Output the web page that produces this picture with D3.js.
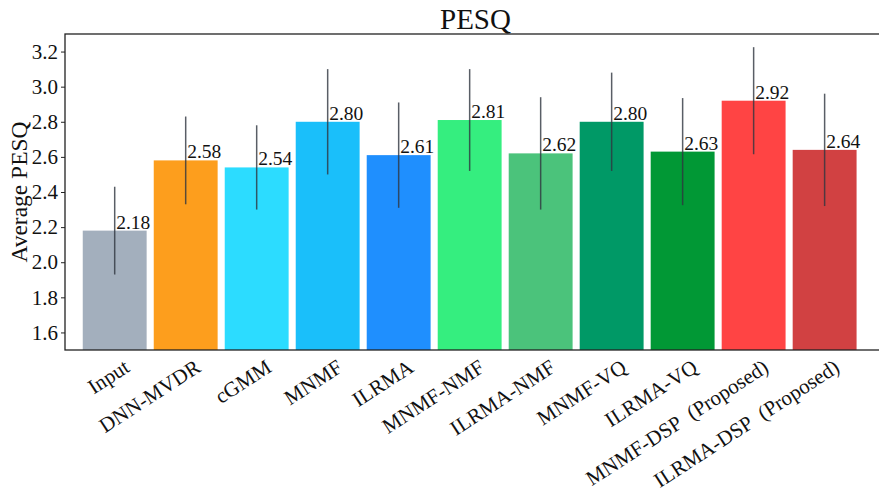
<!DOCTYPE html>
<html>
<head>
<meta charset="utf-8">
<script src="https://cdn.jsdelivr.net/npm/d3@7"></script>
<style>
  html, body { margin: 0; padding: 0; background: #fff; }
  svg { display: block; }
  text { font-family: "Liberation Serif", "DejaVu Serif", serif; fill: #111; }
</style>
</head>
<body>
<svg id="chart" width="879" height="497"></svg>
<script>
// Methods compared and their average PESQ with standard deviation
const methods = ["Input", "DNN-MVDR", "cGMM", "MNMF", "ILRMA", "MNMF-NMF",
                 "ILRMA-NMF", "MNMF-VQ", "ILRMA-VQ", "MNMF-DSP\u2002(Proposed)", "ILRMA-DSP\u2002(Proposed)"];
const meanPESQ = [2.18, 2.58, 2.54, 2.80, 2.61, 2.81, 2.62, 2.80, 2.63, 2.92, 2.64];
const stdPESQ  = [0.25, 0.25, 0.24, 0.30, 0.30, 0.29, 0.32, 0.28, 0.305, 0.305, 0.32];
const barColors = ["#a3afbd", "#fd9e1d", "#2cdcff", "#1abffa", "#1f8ffe", "#35ee7f",
                   "#4bc37b", "#009966", "#019835", "#ff4444", "#d14142"];
const yTicks = [1.6, 1.8, 2.0, 2.2, 2.4, 2.6, 2.8, 3.0, 3.2];

const plot = { left: 65, right: 880, top: 34, bottom: 350 };
const svg = d3.select("#chart");

const x = d3.scaleLinear().domain([-0.7, 10.78]).range([plot.left, plot.right]);
const y = d3.scaleLinear().domain([1.5, 3.3]).range([plot.bottom, plot.top]);
const barWidth = x(0.9) - x(0);

// Bars
svg.append("g").selectAll("rect")
  .data(meanPESQ)
  .join("rect")
  .attr("x", (d, i) => x(i) - barWidth / 2)
  .attr("y", d => y(d))
  .attr("width", barWidth)
  .attr("height", d => plot.bottom - y(d))
  .attr("fill", (d, i) => barColors[i]);

// Error bars (mean ± std)
svg.append("g").selectAll("line")
  .data(meanPESQ)
  .join("line")
  .attr("x1", (d, i) => x(i))
  .attr("x2", (d, i) => x(i))
  .attr("y1", (d, i) => y(d - stdPESQ[i]))
  .attr("y2", (d, i) => y(d + stdPESQ[i]))
  .attr("stroke", "#2f3640")
  .attr("stroke-opacity", 0.8)
  .attr("stroke-width", 1.5);

// Value labels
svg.append("g").selectAll("text")
  .data(meanPESQ)
  .join("text")
  .attr("x", (d, i) => x(i) + 1.5)
  .attr("y", d => y(d) - 2)
  .attr("font-size", 19.5)
  .text(d => d.toFixed(2));

// Y axis
const yAxis = d3.axisLeft(y).tickValues(yTicks).tickFormat(d3.format(".1f"))
  .tickSize(4).tickPadding(3);
const gy = svg.append("g").attr("transform", `translate(${plot.left},0)`).call(yAxis);
gy.select(".domain").remove();
gy.selectAll(".tick line").attr("stroke", "#222");
gy.selectAll(".tick text").attr("font-size", 21)
  .attr("font-family", "Liberation Serif, serif").attr("fill", "#111");

// Frame
const frame = svg.append("g").attr("stroke", "#222").attr("stroke-width", 1.3).attr("fill", "none");
frame.append("rect")
  .attr("x", plot.left).attr("y", plot.top)
  .attr("width", plot.right - plot.left).attr("height", plot.bottom - plot.top);

// X category labels, rotated
svg.append("g").selectAll("text")
  .data(methods)
  .join("text")
  .attr("transform", (d, i) => `translate(${x(i) + 8},${plot.bottom + 8}) rotate(-33)`)
  .attr("text-anchor", "end")
  .attr("dy", "0.72em")
  .attr("font-size", 21)
  .text(d => d);

// Title
svg.append("text")
  .attr("x", (plot.left + plot.right) / 2 + 3)
  .attr("y", 29)
  .attr("text-anchor", "middle")
  .attr("font-size", 29)
  .text("PESQ");

// Y axis label
svg.append("text")
  .attr("transform", `translate(27,${(plot.top + plot.bottom) / 2}) rotate(-90)`)
  .attr("text-anchor", "middle")
  .attr("font-size", 23.5)
  .text("Average PESQ");
</script>
</body>
</html>
